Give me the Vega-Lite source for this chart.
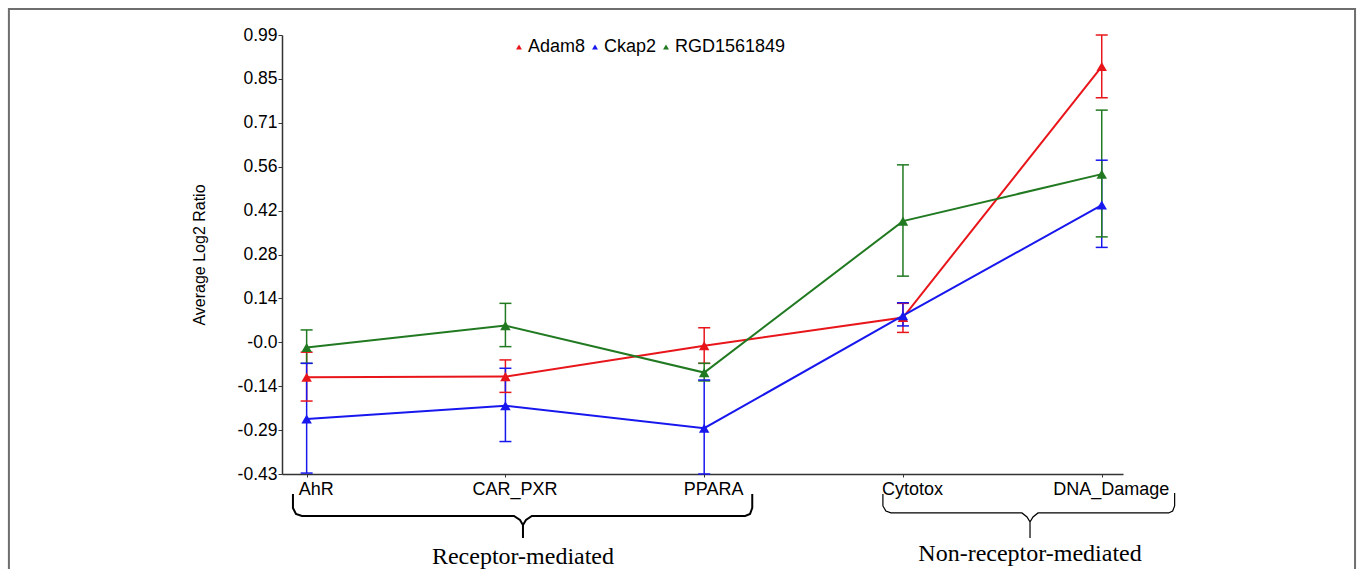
{
  "$schema": "https://vega.github.io/schema/vega-lite/v6.json",
  "width": 841,
  "height": 439,
  "autosize": {"type": "none"},
  "padding": {"left": 282, "top": 35, "right": 237, "bottom": 95},
  "background": "white",
  "config": {
    "view": {"stroke": null},
    "font": "Liberation Sans"
  },
  "datasets": {
    "main": [
      {"gene": "Adam8", "category": "AhR", "idx": 0, "mean": -0.117, "lo": -0.194, "hi": -0.036},
      {"gene": "Adam8", "category": "CAR_PXR", "idx": 1, "mean": -0.115, "lo": -0.166, "hi": -0.061},
      {"gene": "Adam8", "category": "PPARA", "idx": 2, "mean": -0.015, "lo": -0.072, "hi": 0.043},
      {"gene": "Adam8", "category": "Cytotox", "idx": 3, "mean": 0.076, "lo": 0.028, "hi": 0.122},
      {"gene": "Adam8", "category": "DNA_Damage", "idx": 4, "mean": 0.888, "lo": 0.787, "hi": 0.99},
      {"gene": "Ckap2", "category": "AhR", "idx": 0, "mean": -0.252, "lo": -0.427, "hi": -0.072},
      {"gene": "Ckap2", "category": "CAR_PXR", "idx": 1, "mean": -0.209, "lo": -0.325, "hi": -0.088},
      {"gene": "Ckap2", "category": "PPARA", "idx": 2, "mean": -0.282, "lo": -0.43, "hi": -0.126},
      {"gene": "Ckap2", "category": "Cytotox", "idx": 3, "mean": 0.082, "lo": 0.049, "hi": 0.124},
      {"gene": "Ckap2", "category": "DNA_Damage", "idx": 4, "mean": 0.44, "lo": 0.303, "hi": 0.585},
      {"gene": "RGD1561849", "category": "AhR", "idx": 0, "mean": -0.021, "lo": -0.072, "hi": 0.036},
      {"gene": "RGD1561849", "category": "CAR_PXR", "idx": 1, "mean": 0.05, "lo": -0.018, "hi": 0.122},
      {"gene": "RGD1561849", "category": "PPARA", "idx": 2, "mean": -0.102, "lo": -0.129, "hi": -0.072},
      {"gene": "RGD1561849", "category": "Cytotox", "idx": 3, "mean": 0.388, "lo": 0.21, "hi": 0.57},
      {"gene": "RGD1561849", "category": "DNA_Damage", "idx": 4, "mean": 0.54, "lo": 0.337, "hi": 0.747}
    ],
    "braces": [
      {"group": "left", "ord": 1, "x": -0.0689, "y": -0.4945},
      {"group": "left", "ord": 2, "x": -0.0689, "y": -0.5398},
      {"group": "left", "ord": 3, "x": -0.0538, "y": -0.5592},
      {"group": "left", "ord": 4, "x": -0.0236, "y": -0.5656},
      {"group": "left", "ord": 5, "x": 1.043, "y": -0.5656},
      {"group": "left", "ord": 6, "x": 1.0732, "y": -0.5786},
      {"group": "left", "ord": 7, "x": 1.0883, "y": -0.5947},
      {"group": "left", "ord": 8, "x": 1.0883, "y": -0.6368},
      {"group": "left", "ord": 9, "x": 1.0883, "y": -0.5947},
      {"group": "left", "ord": 10, "x": 1.1034, "y": -0.5786},
      {"group": "left", "ord": 11, "x": 1.133, "y": -0.5656},
      {"group": "left", "ord": 12, "x": 2.206, "y": -0.5656},
      {"group": "left", "ord": 13, "x": 2.2307, "y": -0.5592},
      {"group": "left", "ord": 14, "x": 2.2418, "y": -0.5398},
      {"group": "left", "ord": 15, "x": 2.2418, "y": -0.4945},
      {"group": "right", "ord": 1, "x": 2.8991, "y": -0.4945},
      {"group": "right", "ord": 2, "x": 2.8991, "y": -0.5333},
      {"group": "right", "ord": 3, "x": 2.9142, "y": -0.5495},
      {"group": "right", "ord": 4, "x": 2.9394, "y": -0.5559},
      {"group": "right", "ord": 5, "x": 3.5986, "y": -0.5559},
      {"group": "right", "ord": 6, "x": 3.6241, "y": -0.5689},
      {"group": "right", "ord": 7, "x": 3.6392, "y": -0.5851},
      {"group": "right", "ord": 8, "x": 3.6392, "y": -0.6368},
      {"group": "right", "ord": 9, "x": 3.6392, "y": -0.5851},
      {"group": "right", "ord": 10, "x": 3.6543, "y": -0.5689},
      {"group": "right", "ord": 11, "x": 3.6795, "y": -0.5559},
      {"group": "right", "ord": 12, "x": 4.3367, "y": -0.5559},
      {"group": "right", "ord": 13, "x": 4.3568, "y": -0.5495},
      {"group": "right", "ord": 14, "x": 4.3668, "y": -0.5333},
      {"group": "right", "ord": 15, "x": 4.3668, "y": -0.4913}
    ],
    "groupLabels": [
      {"label": "Receptor-mediated", "x": 1.0883, "y": -0.7209},
      {"label": "Non-receptor-mediated", "x": 3.6392, "y": -0.7112}
    ],
    "frame": [
      {"x1": -1.4979, "x2": 5.2744, "y1": 1.0741, "y2": -0.8373}
    ]
  },
  "layer": [
    {
      "data": {"name": "main"},
      "mark": {"type": "line", "strokeWidth": 2},
      "encoding": {
        "x": {
          "field": "idx", "type": "quantitative",
          "scale": {"domain": [-0.124, 4.107], "nice": false, "zero": false},
          "axis": {
            "title": null,
            "values": [0, 1, 2, 3, 4],
            "labelExpr": "datum.value == 0 ? 'AhR' : datum.value == 1 ? 'CAR_PXR' : datum.value == 2 ? 'PPARA' : datum.value == 3 ? 'Cytotox' : 'DNA_Damage'",
            "labelFont": "Liberation Sans",
            "labelFontSize": 18,
            "labelColor": "#000000",
            "labelOffset": 9,
            "labelPadding": 3,
            "labelOverlap": false,
            "labelFlush": false,
            "labelBound": false,
            "tickSize": 3,
            "tickColor": "#333333",
            "domainColor": "#333333",
            "domainWidth": 1.5,
            "grid": false
          }
        },
        "y": {
          "field": "mean", "type": "quantitative",
          "scale": {"domain": [-0.43, 0.99], "nice": false, "zero": false},
          "axis": {
            "title": "Average Log2 Ratio",
            "titleFont": "Liberation Sans",
            "titleFontSize": 16,
            "titleFontWeight": "normal",
            "titleColor": "#000000",
            "titlePadding": 30,
            "values": [-0.43, -0.288, -0.146, -0.004, 0.138, 0.28, 0.422, 0.564, 0.706, 0.848, 0.99],
            "labelExpr": "datum.value < -0.4 ? '-0.43' : datum.value < -0.2 ? '-0.29' : datum.value < -0.1 ? '-0.14' : datum.value < 0.05 ? '-0.0' : datum.value < 0.2 ? '0.14' : datum.value < 0.35 ? '0.28' : datum.value < 0.5 ? '0.42' : datum.value < 0.6 ? '0.56' : datum.value < 0.75 ? '0.71' : datum.value < 0.9 ? '0.85' : '0.99'",
            "labelFont": "Liberation Sans",
            "labelFontSize": 17.5,
            "labelColor": "#000000",
            "labelPadding": 1,
            "labelOverlap": false,
            "labelFlush": false,
            "labelBound": false,
            "tickSize": 4,
            "tickColor": "#333333",
            "domainColor": "#333333",
            "domainWidth": 1.5,
            "grid": false
          }
        },
        "color": {
          "field": "gene", "type": "nominal",
          "scale": {"domain": ["Adam8", "Ckap2", "RGD1561849"], "range": ["#e8161b", "#1717ee", "#217a21"]},
          "legend": {
            "title": null,
            "orient": "none",
            "legendX": 228,
            "legendY": 3,
            "direction": "horizontal",
            "symbolType": "triangle-up",
            "symbolSize": 35,
            "symbolStrokeWidth": 0,
            "labelFont": "Liberation Sans",
            "labelFontSize": 18,
            "labelColor": "#000000",
            "labelOffset": 0,
            "columnPadding": 0
          }
        }
      }
    },
    {
      "data": {"name": "main"},
      "mark": {"type": "rule", "strokeWidth": 1.5},
      "encoding": {
        "x": {"field": "idx", "type": "quantitative"},
        "y": {"field": "lo", "type": "quantitative"},
        "y2": {"field": "hi"},
        "color": {"field": "gene", "type": "nominal"}
      }
    },
    {
      "data": {"name": "main"},
      "mark": {"type": "tick", "orient": "horizontal", "size": 12, "thickness": 1.5, "opacity": 1},
      "encoding": {
        "x": {"field": "idx", "type": "quantitative"},
        "y": {"field": "lo", "type": "quantitative"},
        "color": {"field": "gene", "type": "nominal"}
      }
    },
    {
      "data": {"name": "main"},
      "mark": {"type": "tick", "orient": "horizontal", "size": 12, "thickness": 1.5, "opacity": 1},
      "encoding": {
        "x": {"field": "idx", "type": "quantitative"},
        "y": {"field": "hi", "type": "quantitative"},
        "color": {"field": "gene", "type": "nominal"}
      }
    },
    {
      "data": {"name": "main"},
      "mark": {"type": "point", "shape": "triangle-up", "filled": true, "size": 110, "opacity": 1},
      "encoding": {
        "x": {"field": "idx", "type": "quantitative"},
        "y": {"field": "mean", "type": "quantitative"},
        "color": {"field": "gene", "type": "nominal"}
      }
    },
    {
      "data": {"name": "braces"},
      "transform": [{"filter": "datum.group === 'left'"}],
      "mark": {"type": "line", "color": "#000000", "strokeWidth": 2, "clip": false},
      "encoding": {
        "x": {"field": "x", "type": "quantitative"},
        "y": {"field": "y", "type": "quantitative"},
        "order": {"field": "ord", "type": "quantitative"}
      }
    },
    {
      "data": {"name": "braces"},
      "transform": [{"filter": "datum.group === 'right'"}],
      "mark": {"type": "line", "color": "#000000", "strokeWidth": 1.2, "clip": false},
      "encoding": {
        "x": {"field": "x", "type": "quantitative"},
        "y": {"field": "y", "type": "quantitative"},
        "order": {"field": "ord", "type": "quantitative"}
      }
    },
    {
      "data": {"name": "groupLabels"},
      "mark": {"type": "text", "font": "Liberation Serif", "fontSize": 24, "color": "#000000", "align": "center", "baseline": "alphabetic", "clip": false},
      "encoding": {
        "x": {"field": "x", "type": "quantitative"},
        "y": {"field": "y", "type": "quantitative"},
        "text": {"field": "label", "type": "nominal"}
      }
    },
    {
      "data": {"name": "frame"},
      "mark": {"type": "rect", "fillOpacity": 0, "stroke": "#6e6e6e", "strokeWidth": 2, "clip": false},
      "encoding": {
        "x": {"field": "x1", "type": "quantitative"},
        "x2": {"field": "x2"},
        "y": {"field": "y1", "type": "quantitative"},
        "y2": {"field": "y2"}
      }
    }
  ]
}
